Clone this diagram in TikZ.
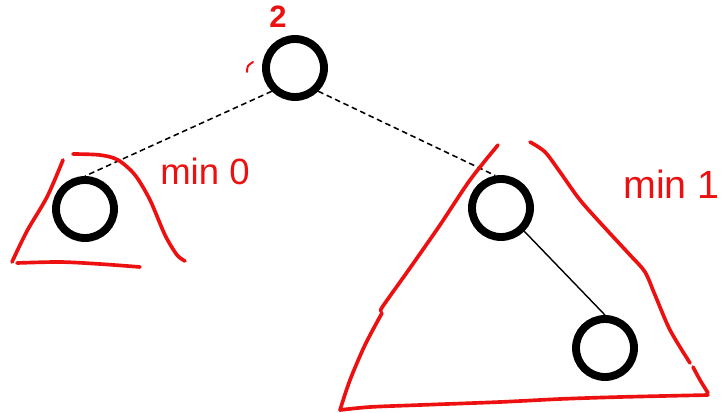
\documentclass[tikz,border=0pt]{standalone}
\usepackage{fontspec}
\usepackage{tikz}
\usetikzlibrary{positioning, calc}
\newfontfamily\handfont{Liberation Sans}
\definecolor{inkred}{RGB}{236,16,16}
\definecolor{inkblack}{RGB}{0,0,0}
\tikzset{
  treenode/.style={circle, draw=inkblack, line width=5.6pt,
    minimum size=1.45cm, inner sep=0pt},
  dashedge/.style={dashed, dash pattern=on 4pt off 2.6pt, line width=1.1pt, color=inkblack},
  solidedge/.style={line width=1pt, color=inkblack},
  redstroke/.style={color=inkred, line width=2.6pt, line cap=round, line join=round},
  redtext/.style={color=inkred, inner sep=0pt}
}

\begin{document}
\begin{tikzpicture}[x=0.025cm, y=-0.025cm]
  \useasboundingbox (0,0) rectangle (728,413);

  % tree nodes
  \node[treenode] (root) at (295,68) {};
  \node[treenode] (lft) at (85,209) {};
  \node[treenode] (rgt) at (501,208) {};
  \node[treenode] (rgtr) at (605,348) {};

  \draw[dashedge] (root.south west) -- (lft.north);
  \draw[dashedge] (root.south east) -- (rgt.100);
  \draw[solidedge] (rgt.south east) -- (rgtr.north);

  % labels
  \node[redtext, font=\handfont\bfseries\fontsize{22}{22}\selectfont] (hgt) at (278,17) {2};
  \node[redtext, anchor=base west, font=\handfont\fontsize{26}{26}\selectfont] (minl) at (160,184) {min 0};
  \node[redtext, anchor=base west, font=\handfont\fontsize{28}{28}\selectfont] (minr) at (623,198) {min 1};

  % small tick beside the root
  \draw[redstroke, line width=1.4pt] plot[smooth] coordinates {(247,72) (248,66) (253,62)};

  % left subtree outline
  \draw[redstroke] plot[smooth] coordinates {(63,160) (47,197) (27,231) (12,262)};
  \draw[redstroke] plot[smooth] coordinates {(73,154) (100,155) (118,160) (135,175) (150,200) (165,235) (177,255) (185,261)};
  \draw[redstroke] plot[smooth] coordinates {(17,263) (60,262) (100,264) (140,267)};

  % right subtree outline
  \draw[redstroke] plot[smooth] coordinates {(498,145) (470,180) (440,225) (410,268) (383,306) (381,311)};
  \draw[redstroke] plot[smooth] coordinates {(382,313) (365,345) (350,380) (340,410)};
  \draw[redstroke] plot[smooth] coordinates {(530,142) (545,152) (560,172) (580,200) (605,228) (630,255) (645,272) (655,295) (670,330) (690,363)};
  \draw[redstroke] plot[smooth] coordinates {(693,367) (700,380) (708,393)};
  \draw[redstroke] plot[smooth] coordinates {(340,410) (370,407) (420,405) (500,402) (560,399) (620,397) (708,395)};
\end{tikzpicture}
\end{document}
